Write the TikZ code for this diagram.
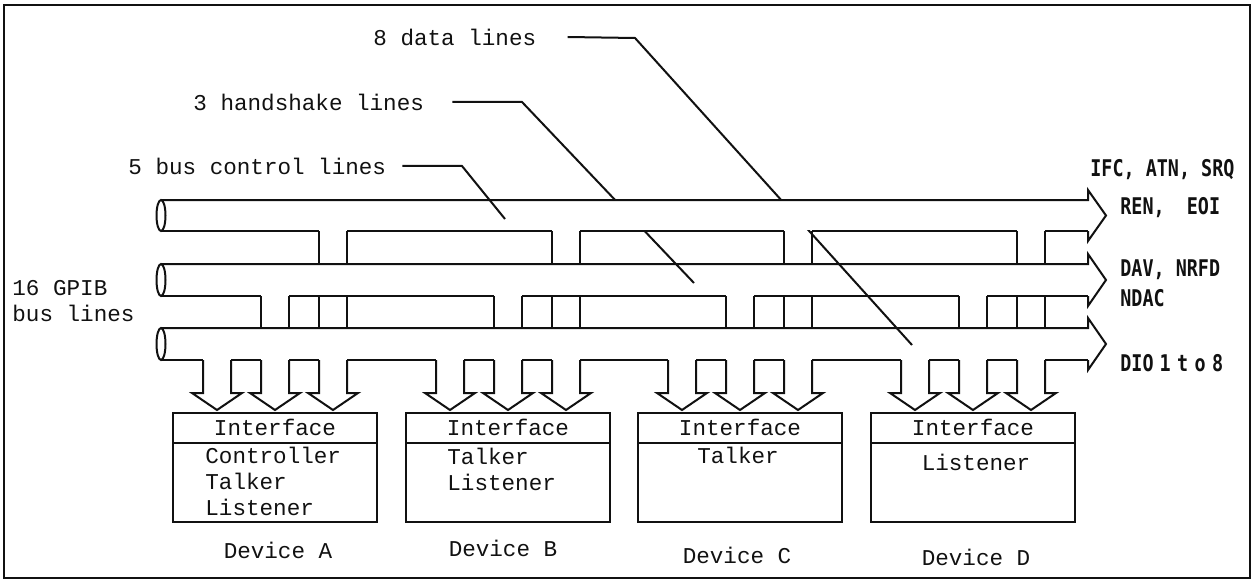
\documentclass[tikz,border=0pt]{standalone}
\usepackage{fontspec}
\usepackage{tikz}
\usepackage{xcolor}
\usetikzlibrary{calc,positioning}
\setmonofont{Liberation Mono}
\newfontfamily\busfont[FakeStretch=0.8]{DejaVu Sans Mono}
\definecolor{gpInk}{RGB}{17,17,17}
\definecolor{gpPaper}{RGB}{255,255,255}
\newcommand{\hollowdown}[1]{%
  \draw[gpLine] (#1-14,360) -- (#1-14,393) -- (#1-25,393) -- (#1,410)
    -- (#1+25,393) -- (#1+14,393) -- (#1+14,360);
}

\begin{document}
\begin{tikzpicture}[x=0.5pt,y=-0.5pt,
  gpLine/.style={draw=gpInk,line width=1pt},
  monotext/.style={font=\ttfamily\fontsize{11.3}{13}\selectfont,text=gpInk,inner sep=0pt},
  bustext/.style={font=\busfont\bfseries\fontsize{11.5}{13}\selectfont,text=gpInk,inner sep=0pt,anchor=west},
  devbox/.style={draw=gpInk,line width=1pt,minimum width=102pt,minimum height=54.5pt,inner sep=0pt}]
  \useasboundingbox (0,0) rectangle (1253,583);
  \draw[gpLine] (4,5) rectangle (1250,578);

  \node[monotext,anchor=west] (lblData) at (373,37) {8 data lines};
  \node[monotext,anchor=west] (lblShake) at (193,102) {3 handshake lines};
  \node[monotext,anchor=west] (lblCtrl) at (128,166) {5 bus control lines};
  \coordinate (kData) at (635,38);
  \coordinate (eData) at (912,345);
  \coordinate (kShake) at (522,102);
  \coordinate (eShake) at (694,283);
  \coordinate (kCtrl) at (462,166);
  \coordinate (eCtrl) at (505,219);
  \draw[gpLine] ([xshift=15.5pt]lblData.east) -- (kData) -- (eData);
  \draw[gpLine] ([xshift=14pt]lblShake.east) -- (kShake) -- (eShake);
  \fill[gpPaper] (162,201) rectangle (1088,230);
  \draw[gpLine] ([xshift=8pt]lblCtrl.east) -- (kCtrl) -- (eCtrl);

  \foreach \t/\b in {200/231,264/296,328/360} {
    \draw[gpLine] (161,\t) -- (1088,\t) -- (1088,\t-10) -- (1106,{(\t+\b)/2})
      -- (1088,\b+10) -- (1088,\b);
    \draw[gpLine] (161,{(\t+\b)/2}) ellipse [x radius=4.5,y radius={(\b-\t)/2}];
  }
  \draw[gpLine] (161,231) -- (319,231);
  \draw[gpLine] (161,296) -- (261,296);
  \draw[gpLine] (161,360) -- (203,360);
  \foreach \c/\n in {275/508,508/740,740/973} {
    \draw[gpLine] (\c+72,231) -- (\n+44,231);
    \draw[gpLine] (\c+14,296) -- (\n-14,296);
    \draw[gpLine] (\c+72,360) -- (\n-72,360);
  }
  \draw[gpLine] (1045,231) -- (1088,231);
  \draw[gpLine] (987,296) -- (1088,296);
  \draw[gpLine] (1045,360) -- (1088,360);

  \foreach \c/\n in {275/A,508/B,740/C,973/D} {
    \draw[gpLine] (\c-44,360) -- (\c-14,360);
    \draw[gpLine] (\c+14,360) -- (\c+44,360);
    \foreach \x in {44,72} {\draw[gpLine] (\c+\x,231) -- (\c+\x,264);}
    \foreach \x in {-14,14,44,72} {\draw[gpLine] (\c+\x,296) -- (\c+\x,328);}
    \foreach \x in {-58,0,58} {\hollowdown{\c+\x}}
    \node[devbox,anchor=north] (dev\n) at (\c,412) {};
    \draw[gpLine] ([yshift=-15.5pt]dev\n.north west) -- ([yshift=-15.5pt]dev\n.north east);
    \node[monotext] (if\n) at (\c,427) {Interface};
  }

  \node[monotext,anchor=west,align=left] (roleA) at (205,481) {Controller\\Talker\\Listener};
  \node[monotext,anchor=west,align=left] (roleB) at (447,469) {Talker\\Listener};
  \node[monotext] (roleC) at (738,455) {Talker};
  \node[monotext] (roleD) at (976,462) {Listener};

  \node[monotext] (nameA) at (278,550) {Device A};
  \node[monotext] (nameB) at (503,548) {Device B};
  \node[monotext] (nameC) at (737,555) {Device C};
  \node[monotext] (nameD) at (976,557) {Device D};

  \node[monotext,anchor=west,align=left] (lblGpib) at (12,301) {16 GPIB\\bus lines};

  \node[bustext] (lblIfc) at (1090,170) {IFC, ATN, SRQ};
  \node[bustext] (lblRen) at (1120,208) {REN,\ \ EOI};
  \node[bustext] (lblDav) at (1120,270) {DAV, NRFD};
  \node[bustext] (lblNdac) at (1120,298) {NDAC};
  \node[bustext] (lblDio) at (1120,363) {DIO\hspace{3pt}{\addfontfeature{LetterSpace=28}1to8}};
\end{tikzpicture}
\end{document}
